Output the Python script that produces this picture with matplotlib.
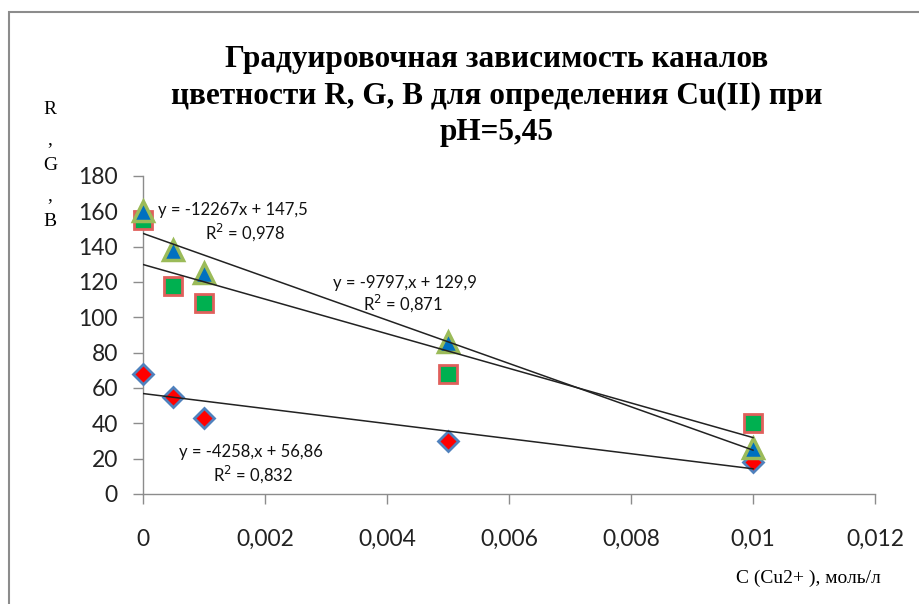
import matplotlib
matplotlib.use("Agg")
import matplotlib.pyplot as plt
import numpy as np
from matplotlib.patches import Rectangle

# Data
conc = [0, 0.0005, 0.001, 0.005, 0.01]
blue_tri = [160, 138, 125, 86, 26]
green_sq = [155, 118, 108, 68, 40]
red_dia = [68, 55, 43, 30, 18]

slopes = [-12267, -9797, -4258]
intercepts = [147.5, 129.9, 56.86]
eq_labels = ["y = -12267x + 147,5", "y = -9797,x + 129,9", "y = -4258,x + 56,86"]
r2_labels = ["R$^2$ = 0,978", "R$^2$ = 0,871", "R$^2$ = 0,832"]

xticks = [0, 0.002, 0.004, 0.006, 0.008, 0.010, 0.012]
xtick_labels = ["0", "0,002", "0,004", "0,006", "0,008", "0,01", "0,012"]
yticks = list(range(0, 181, 20))

title = "Градуировочная зависимость каналов\nцветности R, G, B для определения Cu(II) при\npH=5,45"

fig = plt.figure(figsize=(9.2, 6.04), dpi=100)
W, H = 920, 604
# outer frame
fig.patches.append(Rectangle((9 / W, 0 - 0.01), 1.0, 1 - 12 / H + 0.01, transform=fig.transFigure,
                             fill=False, edgecolor="#8c8c8c", linewidth=1.5))

ax = fig.add_axes([143 / W, 1 - 494 / H, (875 - 143) / W, (494 - 176) / H])
ax.set_xlim(0, 0.012)
ax.set_ylim(0, 180)
for s in ["top", "right"]:
    ax.spines[s].set_visible(False)
for s in ["left", "bottom"]:
    ax.spines[s].set_color("#8c8c8c")
    ax.spines[s].set_linewidth(1.0)
ax.set_xticks(xticks)
ax.set_xticklabels(xtick_labels)
ax.set_yticks(yticks)
ax.tick_params(axis="both", colors="#8c8c8c", length=7, width=1.0, labelcolor="#222222",
               labelsize=16.5)
ax.tick_params(axis="x", pad=18)
ax.tick_params(axis="y", pad=11)
for lab in ax.get_xticklabels() + ax.get_yticklabels():
    lab.set_family("Lato")

ms = 13
ax.plot(conc, red_dia, linestyle="none", marker="D", markersize=ms * 0.8, markerfacecolor="#ff0000",
        markeredgecolor="#4f81bd", markeredgewidth=2, zorder=3, clip_on=False)
ax.plot(conc, green_sq, linestyle="none", marker="s", markersize=ms, markerfacecolor="#00b050",
        markeredgecolor="#e0605c", markeredgewidth=2, zorder=4, clip_on=False)
ax.plot(conc, blue_tri, linestyle="none", marker="^", markersize=ms + 1, markerfacecolor="#0070c0",
        markeredgecolor="#9bbb59", markeredgewidth=2.5, zorder=5, clip_on=False)

xl = np.array([0, 0.01])
for k, b in zip(slopes, intercepts):
    ax.plot(xl, k * xl + b, color="#222222", linewidth=1.1, zorder=6)

# equation labels
eq_pos = [(0.00147, 161, 0.00167, 148), (0.0043, 119.5, 0.00426, 108), (0.00177, 24, 0.0018, 11.5)]
for (ex, ey, rx, ry), e, r in zip(eq_pos, eq_labels, r2_labels):
    ax.text(ex, ey, e, ha="center", va="center", fontsize=12, family="Lato", color="#111111", zorder=7)
    ax.text(rx, ry, r, ha="center", va="center", fontsize=12, family="Lato", color="#111111", zorder=7)

fig.text(497 / W, 1 - 96 / H, title, ha="center", va="center", fontsize=22.5, fontweight="bold",
         family="Liberation Serif", linespacing=1.32)

# y label stacked
for t, yy in zip(["R", ",", "G", ",", "B"], [109, 140, 165, 196, 222]):
    fig.text(50 / W, 1 - yy / H, t, ha="center", va="center", fontsize=14, family="Liberation Serif")

fig.text(808 / W, 1 - 578 / H, "C (Cu2+ ), моль/л", ha="center", va="center", fontsize=14,
         family="Liberation Serif")

fig.savefig("out.png", dpi=100)
